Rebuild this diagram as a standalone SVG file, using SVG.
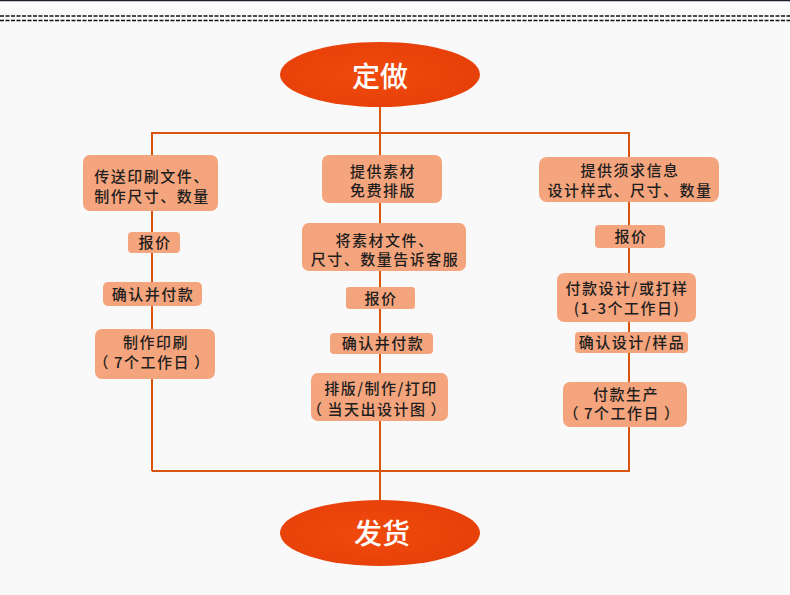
<svg xmlns="http://www.w3.org/2000/svg" width="790" height="595" viewBox="0 0 790 595">
<defs>
<radialGradient id="eg" cx="0.45" cy="0.5" r="0.6">
<stop offset="0" stop-color="#f04a0c"/>
<stop offset="1" stop-color="#e6400a"/>
</radialGradient>
<style>
.box{fill:#f5a57d;}
.t{font-family:"Noto Sans CJK SC","Noto Sans",sans-serif;font-size:15px;font-weight:500;fill:#1e1e1e;text-anchor:middle;letter-spacing:1.5px;}
.big{font-family:"Noto Sans CJK SC","Noto Sans",sans-serif;font-size:28px;font-weight:500;fill:#ffffff;text-anchor:middle;}
.ln{stroke:#d9540c;stroke-width:2;fill:none;}
.dash{stroke:#111;stroke-width:1.3;stroke-dasharray:4 1.5;}
</style>
</defs>
<rect x="0" y="0" width="790" height="595" fill="#f9f9f9"/>
<rect x="0" y="0" width="790" height="1.5" fill="#1a1f2a"/>
<rect x="0" y="1.5" width="790" height="6" fill="#fdfdfd"/>
<line class="dash" x1="0" y1="16" x2="790" y2="16"/>
<line class="dash" x1="0" y1="20.5" x2="790" y2="20.5"/>
<g id="connectors">
<line class="ln" x1="380" y1="106" x2="380" y2="133"/>
<polyline class="ln" points="152,471 152,133 629,133 629,471 152,471"/>
<line class="ln" x1="380" y1="133" x2="380" y2="501"/>
</g>
<g id="start">
<ellipse cx="380" cy="74.5" rx="100" ry="32.5" fill="url(#eg)"/>
<text class="big" x="380" y="87">定做</text>
</g>
<g id="end">
<ellipse cx="380" cy="533" rx="100" ry="33" fill="url(#eg)"/>
<text class="big" x="382" y="544">发货</text>
</g>
<g id="l1"><rect class="box" x="83" y="155" width="135" height="56" rx="7"/>
<text class="t" x="152" y="182">传送印刷文件、</text><text class="t" x="152" y="202">制作尺寸、数量</text></g>
<g id="l2"><rect class="box" x="128" y="232" width="52" height="21" rx="4"/>
<text class="t" x="155" y="248">报价</text></g>
<g id="l3"><rect class="box" x="103" y="282" width="99" height="24" rx="5"/>
<text class="t" x="153" y="299.5">确认并付款</text></g>
<g id="l4"><rect class="box" x="95" y="329" width="120" height="50" rx="7"/>
<text class="t" x="156" y="348">制作印刷</text><text class="t" x="152" y="368">（<tspan dx="4">7个工作日</tspan><tspan dx="4">）</tspan></text></g>
<g id="m1"><rect class="box" x="322" y="155" width="120" height="48" rx="7"/>
<text class="t" x="383" y="177">提供素材</text><text class="t" x="383" y="196">免费排版</text></g>
<g id="m2"><rect class="box" x="302" y="223" width="164" height="48" rx="7"/>
<text class="t" x="385" y="246">将素材文件、</text><text class="t" x="385" y="265">尺寸、数量告诉客服</text></g>
<g id="m3"><rect class="box" x="346" y="287" width="69" height="22" rx="3"/>
<text class="t" x="381" y="304">报价</text></g>
<g id="m4"><rect class="box" x="330" y="333" width="103" height="21" rx="4"/>
<text class="t" x="383" y="349">确认并付款</text></g>
<g id="m5"><rect class="box" x="311" y="373" width="137" height="48" rx="7"/>
<text class="t" x="381" y="394">排版/制作/打印</text><text class="t" x="377" y="414.5">（<tspan dx="4">当天出设计图</tspan><tspan dx="4">）</tspan></text></g>
<g id="r1"><rect class="box" x="539" y="157" width="180" height="45" rx="8"/>
<text class="t" x="630" y="176">提供须求信息</text><text class="t" x="630" y="196">设计样式、尺寸、数量</text></g>
<g id="r2"><rect class="box" x="595" y="225" width="70" height="23" rx="4"/>
<text class="t" x="631" y="242">报价</text></g>
<g id="r3"><rect class="box" x="557" y="273" width="139" height="49" rx="7"/>
<text class="t" x="627" y="294">付款设计/或打样</text><text class="t" x="627" y="314">(1-3个工作日)</text></g>
<g id="r4"><rect class="box" x="575" y="332" width="113" height="21" rx="4"/>
<text class="t" x="632" y="348">确认设计/样品</text></g>
<g id="r5"><rect class="box" x="563" y="382" width="124" height="45" rx="7"/>
<text class="t" x="626" y="399.5">付款生产</text><text class="t" x="622" y="419">（<tspan dx="4">7个工作日</tspan><tspan dx="4">）</tspan></text></g>
</svg>
